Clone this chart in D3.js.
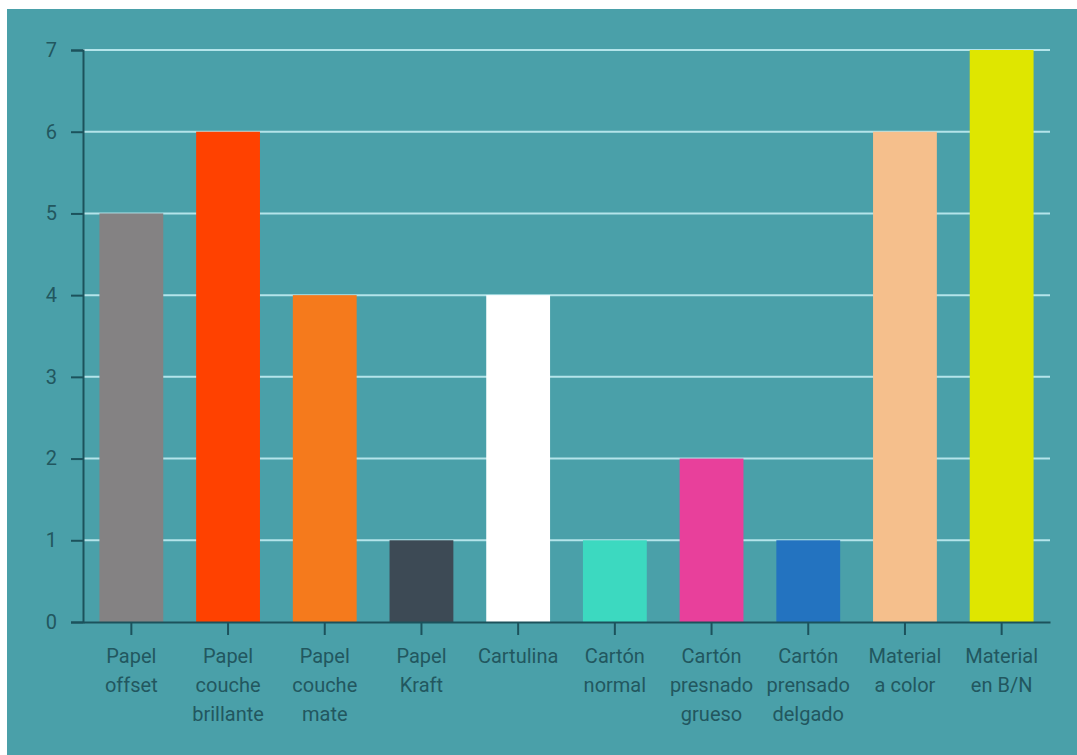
<!DOCTYPE html>
<html>
<head>
<meta charset="utf-8">
<script src="https://cdn.jsdelivr.net/npm/d3@7"></script>
<style>
    body { margin: 0; background: #fff; }
    svg { display: block; font-family: Roboto, sans-serif; }
</style>
</head>
<body>
<svg class="wrapper" width="1077" height="755"></svg>
<script>
const categories = ["Papel offset", "Papel couche brillante", "Papel couche mate", "Papel Kraft", "Cartulina",
    "Cartón normal", "Cartón presnado grueso", "Cartón prensado delgado", "Material a color", "Material en B/N"];
const values = [5, 6, 4, 1, 4, 1, 2, 1, 6, 7];
const barColors = ["#848283", "#ff4100", "#f57a1c", "#3d4a55", "#ffffff",
    "#3cd9c0", "#e8409b", "#2373c0", "#f5bf8c", "#dfe600"];
const yTicks = [0, 1, 2, 3, 4, 5, 6, 7];

const wSvg = 1077, hSvg = 755;
const plotLeft = 83, plotRight = 1050, plotTop = 50, plotBottom = 622;

const svg = d3.select(".wrapper");

// panel background, leaves a thin white strip at top and left
svg.append("rect")
    .attr("x", 7).attr("y", 9)
    .attr("width", wSvg - 7).attr("height", hSvg - 9)
    .attr("fill", "#4aa0a9");

const xScale = d3.scaleBand()
    .domain(categories)
    .range([plotLeft, plotRight])
    .paddingInner(0.34)
    .paddingOuter(0.17);

const yScale = d3.scaleLinear()
    .domain([0, 7])
    .range([plotBottom, plotTop]);

// grid lines
svg.append("g")
    .selectAll("line")
    .data(yTicks.slice(1))
    .enter()
    .append("line")
    .attr("x1", plotLeft)
    .attr("x2", plotRight)
    .attr("y1", d => yScale(d))
    .attr("y2", d => yScale(d))
    .attr("stroke", "#b4e4ea")
    .attr("stroke-width", 2);

// bars
svg.append("g")
    .selectAll("rect")
    .data(categories)
    .enter()
    .append("rect")
    .attr("x", d => xScale(d))
    .attr("width", xScale.bandwidth())
    .attr("y", (d, i) => yScale(values[i]))
    .attr("height", (d, i) => yScale(0) - yScale(values[i]))
    .attr("fill", (d, i) => barColors[i]);

const axisColor = "#1c525c";
const textColor = "#22575f";

let yAxis = svg.append("g")
    .attr("transform", `translate(${plotLeft},0)`)
    .call(d3.axisLeft(yScale).tickValues(yTicks).tickFormat(d3.format("d")).tickSize(12).tickPadding(14));

let xAxis = svg.append("g")
    .attr("transform", `translate(0,${plotBottom})`)
    .call(d3.axisBottom(xScale).tickSize(13).tickSizeOuter(0).tickPadding(8));

[yAxis, xAxis].forEach(ax => {
    ax.select(".domain").attr("stroke", axisColor).attr("stroke-width", 2);
    ax.selectAll(".tick line").attr("stroke", axisColor).attr("stroke-width", 2);
    ax.selectAll(".tick text")
        .attr("fill", textColor)
        .style("font-size", "20px")
        .style("font-family", "Roboto, sans-serif");
});

xAxis.selectAll(".tick text").call(wrap, 74);

function wrap(texts, w) {
    texts.each(function () {
        const text = d3.select(this);
        const words = text.text().split(/\s+/);
        const y = text.attr("y");
        text.text(null);
        let line = [];
        let lineNo = 0;
        let tspan = text.append("tspan").attr("x", 0).attr("y", y).attr("dy", "1em");
        words.forEach(word => {
            line.push(word);
            tspan.text(line.join(" "));
            if (tspan.node().getComputedTextLength() > w && line.length > 1) {
                line.pop();
                tspan.text(line.join(" "));
                line = [word];
                lineNo++;
                tspan = text.append("tspan")
                    .attr("x", 0).attr("y", y)
                    .attr("dy", (1 + lineNo * 1.45) + "em")
                    .text(word);
            }
        });
    });
}
</script>
</body>
</html>
